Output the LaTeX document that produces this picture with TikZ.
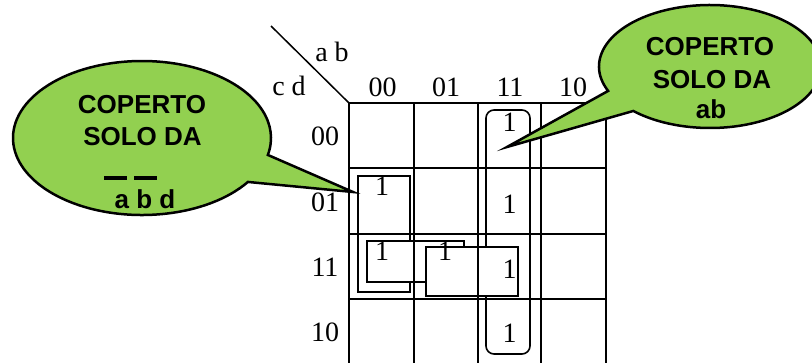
\documentclass[tikz,border=0pt]{standalone}
\usepackage{fontspec}
\setmainfont{Liberation Serif}
\newfontfamily\calloutfont{Liberation Sans}
\usetikzlibrary{calc}
\definecolor{calloutgreen}{HTML}{92D050}
\begin{document}
\begin{tikzpicture}[x=1pt,y=-1pt,
  gridline/.style={line width=1.8pt, line cap=rect},
  loopbox/.style={line width=1.6pt, draw=black, fill=white},
  lbl/.style={font=\fontsize{28}{30}\selectfont, inner sep=0pt, anchor=base},
  callout/.style={fill=calloutgreen, draw=black, line width=2.5pt},
  ctext/.style={font=\calloutfont\bfseries\fontsize{26}{28}\selectfont, inner sep=0pt, anchor=base},
]
\useasboundingbox (0,0) rectangle (812,362);

% loops
\draw[loopbox, rounded corners=8pt] (486,110) rectangle (530,354);
\draw[loopbox] (358,176) rectangle (410,292);
\draw[loopbox] (367,241) rectangle (464,282);
\draw[loopbox] (426,247) rectangle (518,296);

% ones
\node[lbl] (m0011) at (509.5,131) {1};
\node[lbl] (m0100) at (382,195) {1};
\node[lbl] (m1100) at (382,260) {1};
\node[lbl] (m1101) at (445,260) {1};
\node[lbl] (m0111) at (509.5,213) {1};
\node[lbl] (m1111) at (509.5,278) {1};
\node[lbl] (m1011) at (509.5,342) {1};

% grid
\foreach \x in {349,414,478,541,606} \draw[gridline] (\x,103) -- (\x,366);
\foreach \y in {103,168,234,299} \draw[gridline] (349,\y) -- (606,\y);
\draw[line width=1.5pt] (271,26) -- (349,103);

% labels
\node[lbl] (ab) at (332,61) {a b};
\node[lbl] (cd) at (289,95) {c d};
\node[lbl] (c00) at (382.5,96) {00};
\node[lbl] (c01) at (446,96) {01};
\node[lbl] (c11) at (510,96) {11};
\node[lbl] (c10) at (573,96) {10};
\node[lbl] (r00) at (325,145) {00};
\node[lbl] (r01) at (325,211) {01};
\node[lbl] (r11) at (325,276) {11};
\node[lbl] (r10) at (325,341) {10};

% left callout
\draw[callout] (353,192) -- ($(142,138)+(34.8:129 and 77)$)
  arc[start angle=34.8, end angle=372.7, x radius=129, y radius=77] -- cycle;
\node[ctext] (lt1) at (142,113) {COPERTO};
\node[ctext] (lt2) at (142.5,145) {SOLO DA};
\node[ctext] (lt3) at (145,208) {a b d};
\draw[line width=4pt] (104,178.3) -- (127,178.3);
\draw[line width=4pt] (134,178.3) -- (157,178.3);

% right callout
\draw[callout] (507,147) -- ($(710,66.5)+(156.6:111 and 61.5)$)
  arc[start angle=156.6, end angle=493.7, x radius=111, y radius=61.5] -- cycle;
\node[ctext] (rt1) at (710,55) {COPERTO};
\node[ctext] (rt2) at (712,88) {SOLO DA};
\node[ctext] (rt3) at (711,118) {ab};
\end{tikzpicture}
\end{document}
